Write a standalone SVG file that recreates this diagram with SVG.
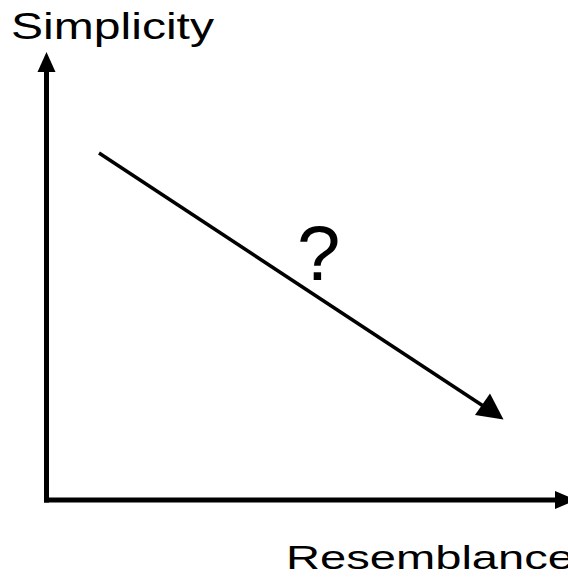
<svg xmlns="http://www.w3.org/2000/svg" width="568" height="581" viewBox="0 0 568 581">
  <style>
    .lbl { font-family: "Liberation Sans", Arial, sans-serif; fill: #000; }
    .axis { stroke: #000; stroke-width: 5; fill: none; }
    .trend { stroke: #000; stroke-width: 3.5; fill: none; }
    .head { fill: #000; stroke: none; }
  </style>
  <rect width="568" height="581" fill="#fff"/>
  <g id="connectors">
    <g id="y-axis">
      <line class="axis" x1="46.5" y1="70" x2="46.5" y2="502.5"/>
      <polygon class="head" points="46.5,52 37.5,72 55.5,72"/>
    </g>
    <g id="x-axis">
      <line class="axis" x1="44" y1="500" x2="557" y2="500"/>
      <polygon class="head" points="555,491 555,509 576,500"/>
    </g>
    <g id="trend">
      <line class="trend" x1="99" y1="153" x2="484" y2="406.5"/>
      <polygon class="head" points="503.5,419.5 475,415 490,393.5"/>
    </g>
  </g>
  <g id="label-simplicity">
    <text class="lbl" x="11" y="39" font-size="36" textLength="203" lengthAdjust="spacingAndGlyphs">Simplicity</text>
  </g>
  <g id="label-resemblance">
    <text class="lbl" x="286" y="569" font-size="34" textLength="288" lengthAdjust="spacingAndGlyphs">Resemblance</text>
  </g>
  <g id="label-question">
    <text class="lbl" x="297" y="280" font-size="78">?</text>
  </g>
</svg>
